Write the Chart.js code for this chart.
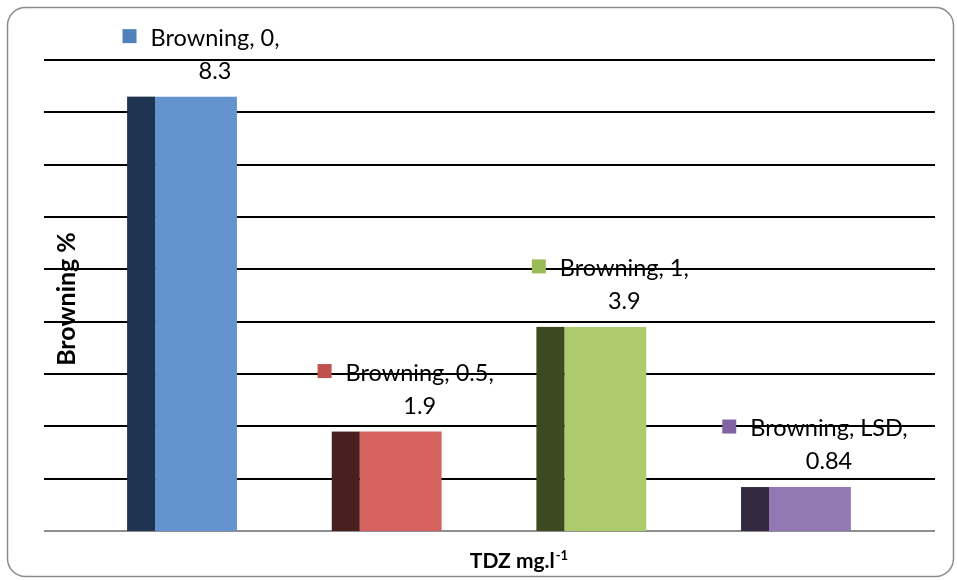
<!DOCTYPE html>
<html>
<head>
<meta charset="utf-8">
<title>Browning % by TDZ concentration</title>
<script src="https://cdn.jsdelivr.net/npm/chart.js@4/dist/chart.umd.min.js"></script>
<style>
  html, body { margin: 0; padding: 0; background: #ffffff; }
  #wrap { width: 957px; height: 580px; }
</style>
</head>
<body>
<div id="wrap"><canvas id="chart" width="957" height="580"></canvas></div>
<script>
// Data
const seriesName = 'Browning';
const categories = ['0', '0.5', '1', 'LSD'];
const browningValues = [8.3, 1.9, 3.9, 0.84];

// Colours: front face, shaded side face, legend key
const frontColors = ['#6394D0', '#D5625E', '#ADCB6C', '#9279B3'];
const sideColors  = ['#1F3450', '#4A1F1F', '#3C4A21', '#332A41'];
const keyColors   = ['#4F81BD', '#C0504D', '#9BBB59', '#8064A2'];

const yAxisTitle = 'Browning %';
const xAxisTitle = 'TDZ mg.l';
const xAxisTitleSup = '-1';

const labelFont = '23.5px Lato, "Open Sans", sans-serif';
const titleFont = 'bold 25px Lato, "Open Sans", sans-serif';
const xTitleFont = 'bold 21px Lato, "Open Sans", sans-serif';
const supFont = 'bold 13px Lato, "Open Sans", sans-serif';

const GRID_LEFT = 44, GRID_RIGHT = 935, SIDE_DEPTH = 28;

const decorPlugin = {
  id: 'decor',
  beforeDraw(chart) {
    const ctx = chart.ctx;
    ctx.save();
    ctx.fillStyle = '#ffffff';
    ctx.fillRect(0, 0, chart.width, chart.height);
    // rounded frame
    ctx.strokeStyle = '#8C8C8C';
    ctx.lineWidth = 1.5;
    ctx.beginPath();
    ctx.roundRect(7.5, 7.5, 946, 569, 18);
    ctx.stroke();
    ctx.restore();
  },
  beforeDatasetsDraw(chart) {
    const ctx = chart.ctx, y = chart.scales.y;
    ctx.save();
    const ticks = y.ticks.map(t => t.value);
    ticks.forEach(v => {
      const py = Math.round(y.getPixelForValue(v));
      ctx.beginPath();
      ctx.moveTo(GRID_LEFT, py);
      ctx.lineTo(GRID_RIGHT, py);
      ctx.lineWidth = 2;
      ctx.strokeStyle = v === 0 ? '#8E8E8E' : '#000000';
      ctx.stroke();
    });
    ctx.restore();
  },
  afterDatasetsDraw(chart) {
    const ctx = chart.ctx;
    const meta = chart.getDatasetMeta(0);
    ctx.save();
    // shaded side face of each column
    meta.data.forEach((bar, i) => {
      const left = bar.x - bar.width / 2;
      ctx.fillStyle = sideColors[i];
      ctx.fillRect(left - SIDE_DEPTH, bar.y, SIDE_DEPTH, bar.base - bar.y);
    });
    // data labels with legend key
    ctx.fillStyle = '#000000';
    ctx.font = labelFont;
    ctx.textBaseline = 'alphabetic';
    meta.data.forEach((bar, i) => {
      const line1 = seriesName + ', ' + categories[i] + ',';
      const line2 = String(browningValues[i]);
      const cx = bar.x + 19;
      const w1 = ctx.measureText(line1).width;
      const textLeft = cx - w1 / 2;
      const base1 = bar.y - 51;
      const base2 = bar.y - 18;
      ctx.fillStyle = keyColors[i];
      ctx.fillRect(textLeft - 28, base1 - 16.5, 14, 14);
      ctx.fillStyle = '#000000';
      ctx.textAlign = 'center';
      ctx.fillText(line1, cx, base1);
      ctx.fillText(line2, cx, base2);
    });
    // axis titles
    ctx.font = titleFont;
    ctx.textAlign = 'center';
    ctx.textBaseline = 'middle';
    ctx.save();
    ctx.translate(67, 299);
    ctx.rotate(-Math.PI / 2);
    ctx.fillText(yAxisTitle, 0, 0);
    ctx.restore();

    ctx.font = xTitleFont;
    const wMain = ctx.measureText(xAxisTitle).width;
    ctx.font = supFont;
    const wSup = ctx.measureText(xAxisTitleSup).width;
    const startX = 519 - (wMain + wSup + 1) / 2;
    ctx.textAlign = 'left';
    ctx.textBaseline = 'alphabetic';
    ctx.font = xTitleFont;
    ctx.fillText(xAxisTitle, startX, 568);
    ctx.font = supFont;
    ctx.fillText(xAxisTitleSup, startX + wMain + 1, 560);
    ctx.restore();
  }
};

new Chart(document.getElementById('chart'), {
  type: 'bar',
  data: {
    labels: categories,
    datasets: [{
      label: seriesName,
      data: browningValues,
      backgroundColor: frontColors,
      borderWidth: 0,
      categoryPercentage: 1.0,
      barPercentage: 0.4
    }]
  },
  options: {
    responsive: false,
    devicePixelRatio: 1,
    animation: false,
    layout: { padding: { left: 93.7, right: 44.7, top: 60, bottom: 49 } },
    plugins: {
      legend: { display: false },
      tooltip: { enabled: false },
      title: { display: false }
    },
    scales: {
      x: { display: false },
      y: { display: false, min: 0, max: 9, ticks: { stepSize: 1 } }
    }
  },
  plugins: [decorPlugin]
});
</script>
</body>
</html>
